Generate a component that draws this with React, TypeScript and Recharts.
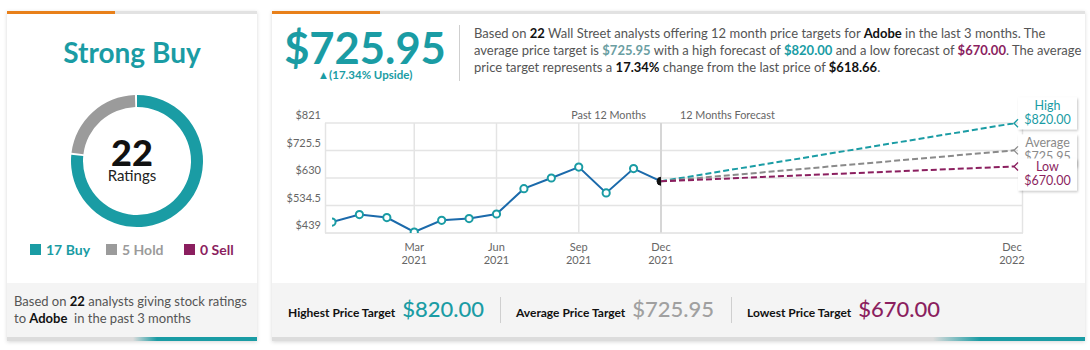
import React from 'react';
import {
  ComposedChart,
  Line,
  XAxis,
  YAxis,
  CartesianGrid,
  ReferenceLine,
  LabelList,
  PieChart,
  Pie,
  Cell,
} from 'recharts';

// ---------- data ----------
const ratingLabels = ['Buy', 'Hold', 'Sell'];
const ratingCounts = [17, 5, 0];
const ratingColors = ['#1a9ca4', '#9b9b9b', '#8b1f5f'];
const totalRatings = 22;

const pastMonthIndex = [0, 1, 2, 3, 4, 5, 6, 7, 8, 9, 10, 11, 12];
const pastPrices = [477, 503, 492.5, 442.5, 483, 489, 505, 593, 630, 668, 578, 662.6, 618.66];
const lastPrice = 618.66;

const targetNames = ['High', 'Average', 'Low'];
const targetValues = [820, 725.95, 670];
const targetColors = ['#1a9ca4', '#8a8a8a', '#8b1f5f'];
const forecastStart = 0;
const forecastHorizon = 12;

const yTicks = [439, 534.5, 630, 725.5, 821];
const pastTickMonths = [3, 6, 9, 12];
const pastTickLabels = ['Mar', 'Jun', 'Sep', 'Dec'];
const pastTickYears = ['2021', '2021', '2021', '2021'];
const forecastTickLabel = ['Dec', '2022'];

const TEAL = '#1a9ca4';
const PURPLE = '#8b1f5f';
const ORANGE = '#e8801a';
const FONT = 'Lato, "Open Sans", sans-serif';

const PAST_PAD_LEFT = 7;
const PAST_PAD_RIGHT = 362;

const pastData = pastMonthIndex.map((m, i) => ({ m, price: pastPrices[i] }));
const forecastData = targetValues.map((t) => [
  { m: forecastStart, v: lastPrice },
  { m: forecastHorizon, v: t },
]);
const pieData = ratingLabels
  .map((name, i) => ({ name, value: ratingCounts[i], color: ratingColors[i] }))
  .filter((d) => d.value > 0);

// ---------- chart pieces ----------
const YTick = (props: any) => {
  const { x, y, payload } = props;
  return (
    <text x={x} y={y - 8.5} textAnchor="end" dominantBaseline="central" fontSize={11} fill="#666" fontFamily={FONT}>
      {'$' + payload.value}
    </text>
  );
};

const XTick = (props: any) => {
  const { x, y, payload } = props;
  const i = pastTickMonths.indexOf(payload.value);
  if (i < 0) return null;
  return (
    <g>
      <text x={x} y={y + 5.7} textAnchor="middle" dominantBaseline="central" fontSize={11} fill="#666" fontFamily={FONT}>
        {pastTickLabels[i]}
      </text>
      <text x={x} y={y + 18.3} textAnchor="middle" dominantBaseline="central" fontSize={11} fill="#666" fontFamily={FONT}>
        {pastTickYears[i]}
      </text>
    </g>
  );
};

const PastDot = (props: any) => {
  const { cx, cy, index } = props;
  if (cx == null || cy == null) return <g key={'d' + index} />;
  if (index === pastData.length - 1) {
    return <circle key={'d' + index} cx={cx} cy={cy} r={4} fill="#111" stroke="#111" />;
  }
  return <circle key={'d' + index} cx={cx} cy={cy} r={3.6} fill="#fff" stroke={TEAL} strokeWidth={2} />;
};

const boxOffsets = [-26, -16, -8];

const makeTargetLabel = (k: number) => (props: any) => {
  const { x, y, index } = props;
  if (index !== 1 || x == null) return null;
  const bx = x + 4;
  const by = y + boxOffsets[k];
  const w = 59;
  const h = 32;
  const col = targetColors[k];
  const fid = 'shadow' + k;
  return (
    <g>
      <defs>
        <filter id={fid} x="-20%" y="-20%" width="150%" height="160%">
          <feDropShadow dx="1" dy="1.5" stdDeviation="1.3" floodColor="#000" floodOpacity="0.22" />
        </filter>
      </defs>
      <rect x={bx} y={by} width={w} height={h} fill="#fff" filter={`url(#${fid})`} />
      <path d={`M ${x + 4} ${y - 4} L ${x} ${y} L ${x + 4} ${y + 4}`} fill="none" stroke={col} strokeWidth={1.3} />
      <text x={bx + w / 2} y={by + 8.5} textAnchor="middle" dominantBaseline="central" fontSize={12.5} fill={col} fontFamily={FONT}>
        {targetNames[k]}
      </text>
      <text x={bx + w / 2} y={by + 22} textAnchor="middle" dominantBaseline="central" fontSize={12.5} fill={col} fontFamily={FONT}>
        {'$' + targetValues[k].toFixed(2)}
      </text>
    </g>
  );
};

const PeriodLabels = (props: any) => {
  const vb = props.viewBox || {};
  const x = vb.x;
  const y = vb.y;
  return (
    <g>
      <text x={x - 15} y={y - 8.5} textAnchor="end" dominantBaseline="central" fontSize={10.8} fill="#666" fontFamily={FONT}>
        Past 12 Months
      </text>
      <text x={x + 19} y={y - 8.5} textAnchor="start" dominantBaseline="central" fontSize={10.8} fill="#666" fontFamily={FONT}>
        12 Months Forecast
      </text>
    </g>
  );
};

const ForecastTick = (props: any) => {
  const vb = props.viewBox || {};
  const x = vb.x - 2;
  const y = vb.y + vb.height + 8;
  return (
    <g>
      <text x={x} y={y + 5.7} textAnchor="middle" dominantBaseline="central" fontSize={11} fill="#666" fontFamily={FONT}>
        {forecastTickLabel[0]}
      </text>
      <text x={x} y={y + 18.3} textAnchor="middle" dominantBaseline="central" fontSize={11} fill="#666" fontFamily={FONT}>
        {forecastTickLabel[1]}
      </text>
    </g>
  );
};

const gridVerticals = (p: any) => {
  const off = p.offset;
  const s = p && p.xAxis && p.xAxis.scale;
  let f: ((v: number) => number) | null = null;
  if (typeof s === 'function') f = s;
  else if (s && typeof s.map === 'function') f = (v: number) => s.map(v);
  if (!f) {
    const inner = off.width - PAST_PAD_LEFT - PAST_PAD_RIGHT;
    f = (v: number) => off.left + PAST_PAD_LEFT + (v / 12) * inner;
  }
  const pts = pastTickMonths.slice(0, 3).map((m) => f!(m));
  return [off.left + 0.5, ...pts, off.left + off.width - 0.5];
};

const PriceChart = () => (
  <ComposedChart width={813} height={185} margin={{ top: 28, right: 62, bottom: 0, left: 0 }} style={{ fontFamily: FONT }}>
    <CartesianGrid xAxisId="a_past" stroke="#e4e4e4" strokeWidth={1.5} verticalCoordinatesGenerator={gridVerticals} />
    <XAxis
      xAxisId="a_past"
      type="number"
      dataKey="m"
      domain={[0, 12]}
      ticks={pastTickMonths}
      padding={{ left: PAST_PAD_LEFT, right: PAST_PAD_RIGHT }}
      height={47}
      axisLine={{ stroke: '#e4e4e4' }}
      tickLine={false}
      tick={<XTick />}
      allowDataOverflow
    />
    <XAxis
      xAxisId="b_fc"
      type="number"
      dataKey="m"
      domain={[forecastStart, forecastHorizon]}
      padding={{ left: 336, right: 9 }}
      height={0}
      hide
      allowDataOverflow
    />
    <YAxis
      type="number"
      domain={[439, 821]}
      ticks={yTicks}
      width={53}
      axisLine={false}
      tickLine={false}
      tickSize={2}
      tickMargin={2}
      tick={<YTick />}
      allowDataOverflow
    />
    <ReferenceLine xAxisId="a_past" x={12} stroke="#d6d6d6" strokeWidth={2} label={<PeriodLabels />} />
    <ReferenceLine xAxisId="b_fc" x={forecastHorizon} stroke="none" strokeOpacity={0} label={<ForecastTick />} />
    {forecastData.map((d, k) => (
      <Line
        key={targetNames[k]}
        xAxisId="b_fc"
        data={d}
        dataKey="v"
        stroke={targetColors[k]}
        strokeWidth={2}
        strokeDasharray="6 3"
        dot={false}
        activeDot={false}
        isAnimationActive={false}
      >
        <LabelList dataKey="v" content={makeTargetLabel(k)} />
      </Line>
    ))}
    <Line
      xAxisId="a_past"
      data={pastData}
      dataKey="price"
      stroke="#1b6aab"
      strokeWidth={2}
      dot={PastDot}
      activeDot={false}
      isAnimationActive={false}
    />
  </ComposedChart>
);

// ---------- layout ----------
const b = (t: string, c = '#111') => <b style={{ color: c, fontWeight: 700 }}>{t}</b>;

export default function App() {
  return (
    <div style={{ position: 'absolute', left: 0, top: 0, width: 1090, height: 350, background: '#fff', fontFamily: FONT, overflow: 'hidden' }}>
      {/* LEFT CARD */}
      <div style={{ position: 'absolute', left: 7, top: 11, width: 250, height: 330, background: '#fff', boxShadow: '0 1px 4px rgba(0,0,0,0.16)' }}>
        <div style={{ position: 'absolute', left: 0, top: 0, width: 250, height: 3, background: '#e2e2e2' }}>
          <div style={{ width: 108, height: 3, background: ORANGE }} />
        </div>
        <div style={{ position: 'absolute', left: 0, top: 24, width: 250, textAlign: 'center', fontSize: 28, lineHeight: '34px', fontWeight: 700, color: TEAL }}>
          Strong Buy
        </div>
        <div style={{ position: 'absolute', left: 0, top: 70 }}>
          <PieChart width={250} height={150}>
            <Pie
              data={pieData}
              dataKey="value"
              cx={125}
              cy={75}
              innerRadius={54}
              outerRadius={66}
              startAngle={90}
              endAngle={-270}
              paddingAngle={1.8}
              stroke="none"
              isAnimationActive={false}
            >
              {pieData.map((d) => (
                <Cell key={d.name} fill={d.color} />
              ))}
            </Pie>
          </PieChart>
        </div>
        <div style={{ position: 'absolute', left: 0, top: 126.7, width: 250, textAlign: 'center', fontSize: 36, lineHeight: '28px', fontWeight: 900, color: '#111' }}>
          {totalRatings}
        </div>
        <div style={{ position: 'absolute', left: 0, top: 155, width: 250, textAlign: 'center', fontSize: 15, lineHeight: '18px', color: '#222' }}>
          Ratings
        </div>
        {ratingLabels.map((name, i) => (
          <div
            key={name}
            style={{
              position: 'absolute',
              left: [23, 99, 177][i],
              top: 228,
              height: 20,
              display: 'flex',
              alignItems: 'center',
              fontSize: 14,
              fontWeight: 700,
              color: ratingColors[i],
              whiteSpace: 'nowrap',
            }}
          >
            <span style={{ display: 'inline-block', width: 11, height: 11, background: ratingColors[i], marginRight: 5 }} />
            {ratingCounts[i] + ' ' + name}
          </div>
        ))}
        <div style={{ position: 'absolute', left: 0, top: 272, width: 250, height: 54, background: '#f4f4f4' }}>
          <div style={{ position: 'absolute', left: 7, top: 9.5, fontSize: 13, lineHeight: '17.5px', color: '#555', whiteSpace: 'nowrap' }}>
            Based on {b('22')} analysts giving stock ratings
            <br />
            to {b('Adobe')}&nbsp; in the past 3 months
          </div>
        </div>
        <div
          style={{
            position: 'absolute',
            left: 0,
            top: 326,
            width: 250,
            height: 4,
            background: `linear-gradient(to right, #dcdcdc 0px, #dcdcdc 126px, ${TEAL} 150px, ${TEAL} 250px)`,
          }}
        />
      </div>

      {/* RIGHT CARD */}
      <div style={{ position: 'absolute', left: 272, top: 11, width: 813, height: 330, background: '#fff', boxShadow: '0 1px 4px rgba(0,0,0,0.16)' }}>
        <div style={{ position: 'absolute', left: 0, top: 0, width: 813, height: 3, background: '#e2e2e2' }}>
          <div style={{ width: 108, height: 3, background: ORANGE }} />
        </div>
        <div style={{ position: 'absolute', left: 8, top: 15.7, width: 170, textAlign: 'center', fontSize: 43.5, lineHeight: '40px', fontWeight: 700, color: TEAL }}>
          $725.95
        </div>
        <div style={{ position: 'absolute', left: 8, top: 56, width: 170, textAlign: 'center', fontSize: 11.5, lineHeight: '16px', fontWeight: 700, color: TEAL }}>
          ▲(17.34% Upside)
        </div>
        <div style={{ position: 'absolute', left: 187, top: 14, width: 1, height: 56, background: '#cfcfcf' }} />
        <div style={{ position: 'absolute', left: 202, top: 13.5, fontSize: 13, lineHeight: '17px', color: '#555', whiteSpace: 'nowrap' }}>
          Based on {b('22')} Wall Street analysts offering 12 month price targets for {b('Adobe')} in the last 3 months. The
          <br />
          average price target is {b('$725.95', '#6b9ea2')} with a high forecast of {b('$820.00', TEAL)} and a low forecast of {b('$670.00', PURPLE)}. The average
          <br />
          price target represents a {b('17.34%')} change from the last price of {b('$618.66')}.
        </div>

        <div style={{ position: 'absolute', left: 0, top: 84 }}>
          <PriceChart />
        </div>

        <div style={{ position: 'absolute', left: 0, top: 272, width: 813, height: 54, background: '#f4f4f4' }}>
          {[
            { left: 16, label: 'Highest Price Target', value: '$820.00', color: TEAL },
            { left: 244, label: 'Average Price Target', value: '$725.95', color: '#a0a0a0' },
            { left: 475, label: 'Lowest Price Target', value: '$670.00', color: PURPLE },
          ].map((g) => (
            <div key={g.label} style={{ position: 'absolute', left: g.left, top: 12, height: 30, display: 'flex', alignItems: 'baseline', whiteSpace: 'nowrap' }}>
              <span style={{ fontSize: 12, fontWeight: 700, color: '#111' }}>{g.label}</span>
              <span style={{ fontSize: 22, fontWeight: 500, color: g.color, marginLeft: 7 }}>{g.value}</span>
            </div>
          ))}
          <div style={{ position: 'absolute', left: 228, top: 14, width: 1, height: 26, background: '#cfcfcf' }} />
          <div style={{ position: 'absolute', left: 459, top: 14, width: 1, height: 26, background: '#cfcfcf' }} />
        </div>
        <div
          style={{
            position: 'absolute',
            left: 0,
            top: 326,
            width: 813,
            height: 4,
            background: `linear-gradient(to right, #dcdcdc 0px, #dcdcdc 661px, ${TEAL} 708px, ${TEAL} 813px)`,
          }}
        />
      </div>
    </div>
  );
}
